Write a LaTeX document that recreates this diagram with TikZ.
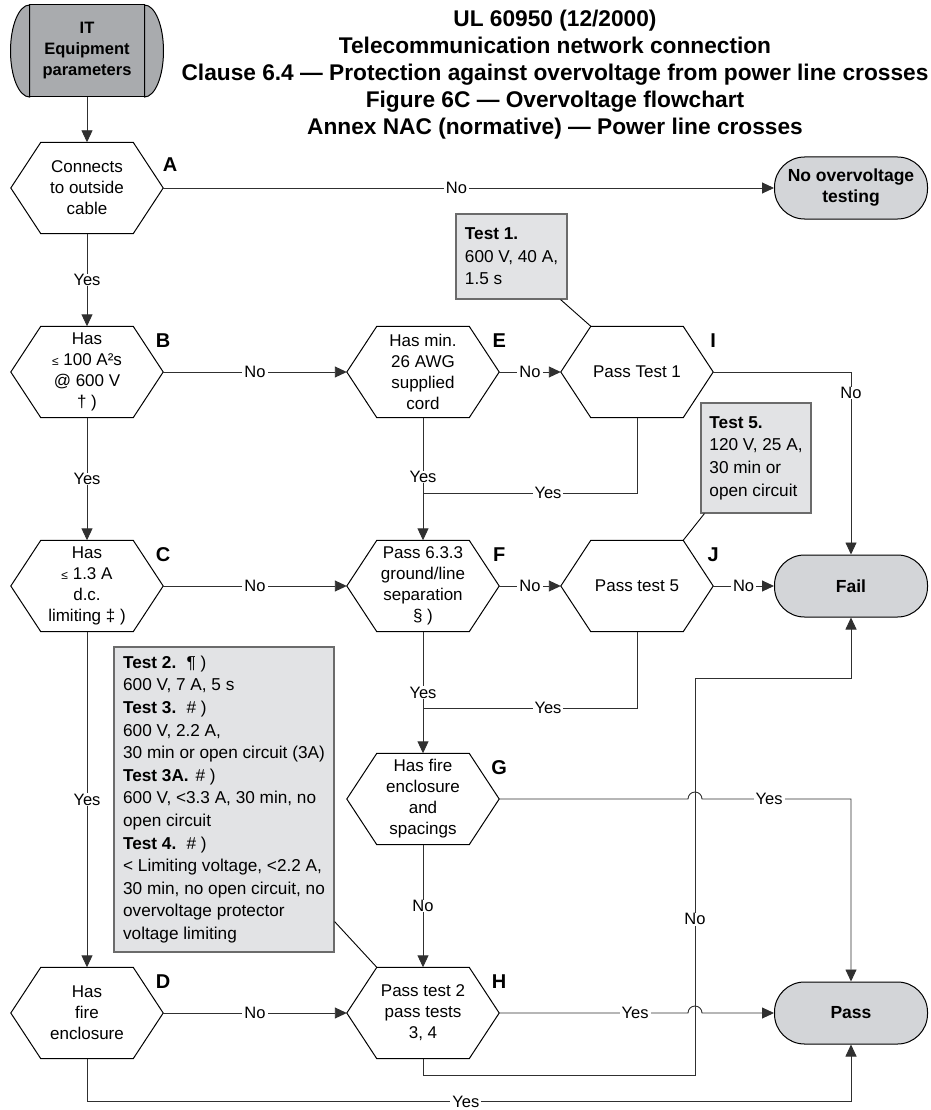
\documentclass[tikz,border=0pt]{standalone}
\usepackage{fontspec}
\setmainfont{Liberation Sans}
\usetikzlibrary{arrows.meta,calc}
\definecolor{startgray}{HTML}{A9ABAE}
\definecolor{termgray}{HTML}{D3D5D8}
\definecolor{notegray}{HTML}{E2E3E5}
\definecolor{notedraw}{HTML}{6B6B6B}
\definecolor{linecol}{HTML}{303030}
\begin{document}
\begin{tikzpicture}[x=1pt,y=-1pt,
 hexnode/.style={minimum width=152pt,minimum height=91pt,inner sep=0pt,align=center,font=\fontsize{17}{21}\selectfont},
 hexline/.style={draw=black,line width=1pt,line join=miter},
 startnode/.style={draw=black,line width=1pt,fill=startgray,minimum width=115pt,minimum height=92pt,inner sep=0pt,outer sep=0pt,align=center,font=\fontsize{16.5}{21}\selectfont\bfseries},
 term/.style={draw=black,line width=1pt,fill=termgray,rounded corners=30pt,minimum width=153pt,minimum height=62pt,inner sep=0pt,align=center,font=\fontsize{17.5}{21}\selectfont\bfseries},
 note/.style={draw=notedraw,line width=1.2pt,fill=notegray,align=left,inner sep=0pt,font=\fontsize{17.2}{22.6}\selectfont},
 conn/.style={draw=linecol,line width=0.9pt},
 arr/.style={conn,-{Triangle[length=12pt,width=11pt]}},
 elab/.style={fill=white,inner xsep=2pt,inner ysep=0.5pt,font=\fontsize{16.5}{18}\selectfont},
 letter/.style={font=\fontsize{20}{20}\selectfont\bfseries,inner sep=0pt},
 titletext/.style={align=center,inner sep=0pt,font=\fontsize{22.7}{27}\selectfont\bfseries}
]
\useasboundingbox (0,0) rectangle (930,1110);

% title
\node[titletext,anchor=north] (title) at (555,9.5) {UL 60950 (12/2000)\\Telecommunication network connection\\Clause 6.4 — Protection against overvoltage from power line crosses\\Figure 6C — Overvoltage flowchart\\Annex NAC (normative) — Power line crosses};

% start node
\node[startnode] (S) at (87,51) {IT\\Equipment\\parameters};
\path[draw=black,line width=1pt,fill=startgray] (S.north west) arc[start angle=90,end angle=270,x radius=19pt,y radius=46pt] -- cycle;
\path[draw=black,line width=1pt,fill=startgray] (S.north east) arc[start angle=90,end angle=-90,x radius=19pt,y radius=46pt] -- cycle;

% decision nodes
\node[hexnode] (A) at (87,188) {Connects\\to outside\\cable};
\node[hexnode] (B) at (87,372) {Has\\{\fontsize{12}{21}\selectfont ≤} 100 A²s\\@ 600 V\\† )};
\node[hexnode] (C) at (87,586) {Has\\{\fontsize{12}{21}\selectfont ≤} 1.3 A\\d.c.\\limiting ‡ )};
\node[hexnode] (D) at (87,1013) {Has\\fire\\enclosure};
\node[hexnode] (E) at (423,372) {Has min.\\26 AWG\\supplied\\cord};
\node[hexnode] (F) at (423,586) {Pass 6.3.3\\ground/line\\separation\\§ )};
\node[hexnode] (G) at (423,799) {Has fire\\enclosure\\and\\spacings};
\node[hexnode] (H) at (423,1013) {Pass test 2\\pass tests\\3, 4};
\node[hexnode] (I) at (637,372) {Pass Test 1};
\node[hexnode] (J) at (637,586) {Pass test 5};

\foreach \n in {A,B,C,D,E,F,G,H,I,J}
  \draw[hexline] (\n.west) -- ([xshift=30pt]\n.north west) -- ([xshift=-30pt]\n.north east) -- (\n.east) -- ([xshift=-30pt]\n.south east) -- ([xshift=30pt]\n.south west) -- cycle;

% letters
\node[letter] at ([xshift=7pt,yshift=-22pt]A.north east) {A};
\foreach \n in {B,C,D,E,F,G,H,I,J}
  \node[letter] at ([yshift=-14pt]\n.north east) {\n};

% terminals
\node[term] (NO) at (851,188) {No overvoltage\\testing};
\node[term] (FAIL) at (851,586) {Fail};
\node[term] (PASS) at (851,1013) {Pass};

% notes
\node[note,minimum width=111pt,minimum height=85pt] (T1) at (511.5,256.5) {\textbf{Test 1.}\\600 V, 40 A,\\1.5 s};
\node[note,minimum width=110pt,minimum height=110pt] (T5) at (756,458) {\textbf{Test 5.}\\120 V, 25 A,\\30 min or\\open circuit};
\node[note,minimum width=220pt,minimum height=305pt] (T2) at (224,799.5) {\textbf{Test 2.}\hspace{0.6em}¶ )\\600 V, 7 A, 5 s\\\textbf{Test 3.}\hspace{0.6em}\# )\\600 V, 2.2 A,\\30 min or open circuit (3A)\\\textbf{Test 3A.}\hspace{0.4em}\# )\\600 V, <3.3 A, 30 min, no\\open circuit\\\textbf{Test 4.}\hspace{0.6em}\# )\\< Limiting voltage, <2.2 A,\\30 min, no open circuit, no\\overvoltage protector\\voltage limiting};

\draw[conn,draw=black] ([xshift=-7pt]T1.south east) -- ([xshift=30pt]I.north west);
\draw[conn,draw=black] ([xshift=4pt]T5.south west) -- ([xshift=-30pt]J.north east);
\draw[conn,draw=black] ([yshift=31pt]T2.south east) -- ([xshift=30pt]H.north west);

% helper coordinates
\coordinate (j1) at (423,493);
\coordinate (j2) at (423,708);
\coordinate (h1) at (695,799);
\coordinate (h2) at (695,1013);
\coordinate (k1) at (423,1075);
\coordinate (k2) at (695,678);
\coordinate (m1) at (87,1101.5);

% connectors
\draw[arr] (S.south) -- (A.north);
\draw[arr] (A.east) -- node[elab,pos=0.48]{No} (NO.west);
\draw[arr] (A.south) -- node[elab]{Yes} (B.north);
\draw[arr] (B.south) -- node[elab]{Yes} (C.north);
\draw[arr] (C.south) -- node[elab]{Yes} (D.north);
\draw[arr] (B.east) -- node[elab]{No} (E.west);
\draw[arr] (C.east) -- node[elab]{No} (F.west);
\draw[arr] (D.east) -- node[elab]{No} (H.west);
\draw[arr] (E.east) -- node[elab]{No} (I.west);
\draw[arr] (F.east) -- node[elab]{No} (J.west);
\draw[arr] (J.east) -- node[elab]{No} (FAIL.west);
\draw[arr] (I.east) -| node[elab,pos=0.557]{No} (FAIL.north);
\draw[arr] (E.south) -- node[elab,pos=0.484]{Yes} (F.north);
\draw[conn] (I.south) |- node[elab,pos=0.708]{Yes} (j1);
\draw[arr] (F.south) -- node[elab]{Yes} (G.north);
\draw[conn] (J.south) |- node[elab,pos=0.708]{Yes} (j2);
\draw[arr] (G.south) -- node[elab]{No} (H.north);
\draw[arr] (H.south) -- (k1) -| node[elab,pos=0.696]{No} (k2) -| (FAIL.south);
\draw[arr] (G.east) -- ([xshift=-7pt]h1) arc[start angle=180,end angle=0,radius=7pt] -- node[elab,pos=0.45]{Yes} (h1 -| PASS.north) -- (PASS.north);
\draw[arr] (H.east) -- node[elab,pos=0.72]{Yes} ([xshift=-7pt]h2) arc[start angle=180,end angle=0,radius=7pt] -- (PASS.west);
\draw[arr] (D.south) -- (m1) -| node[elab,pos=0.248,inner ysep=0pt]{Yes} (PASS.south);
\end{tikzpicture}
\end{document}
